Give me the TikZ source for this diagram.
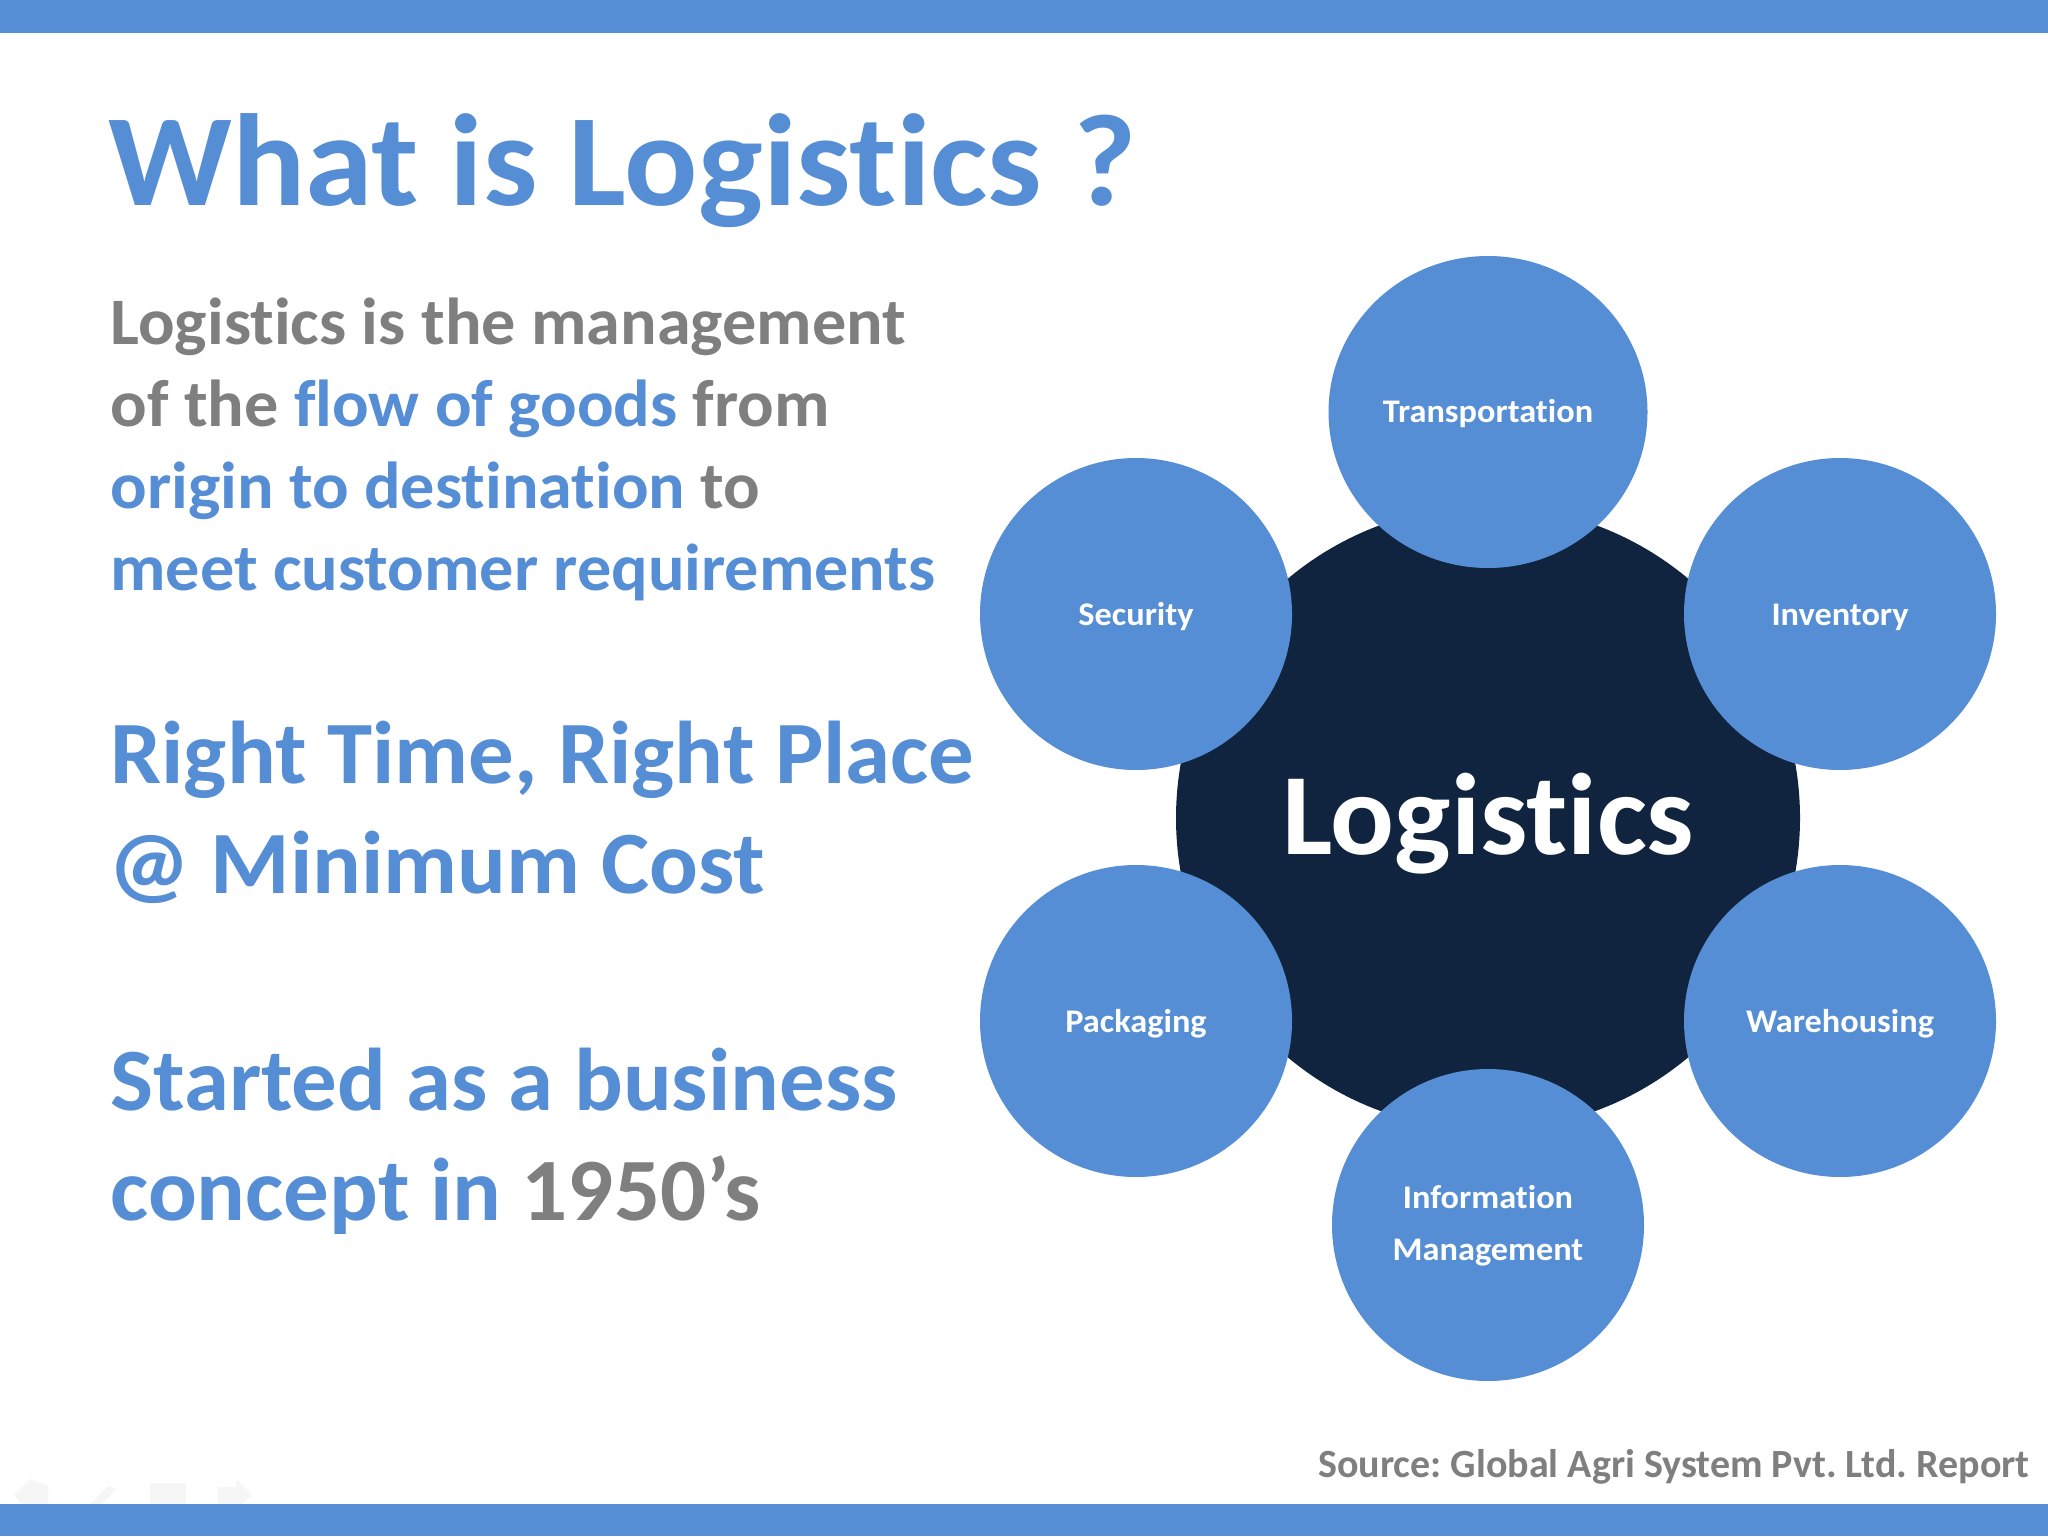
\documentclass[tikz,border=0pt]{standalone}
\usepackage{fontspec}
\usepackage{graphicx}
\usetikzlibrary{shapes.geometric}
\setmainfont{Carlito}[BoldFont={Carlito Bold},Ligatures=CommonOff]
\definecolor{blu}{HTML}{558ED5}
\definecolor{nav}{HTML}{10243F}
\definecolor{gry}{HTML}{7F7F7F}
\definecolor{ghost}{HTML}{F6F6F6}
\tikzset{
  x=0.5pt,y=-0.5pt,
  sat/.style={circle,fill=blu,draw=none,minimum size=156pt,inner sep=0pt,text=white,font=\bfseries\fontsize{16.5}{26}\selectfont,align=center},
  wide/.style={ellipse,fill=blu,draw=none,minimum width=159.5pt,minimum height=156pt,inner sep=0pt,text=white,font=\bfseries\fontsize{16.5}{26}\selectfont,align=center},
  hub/.style={circle,fill=nav,draw=none,minimum size=312pt,inner sep=0pt,text=white,font=\bfseries\fontsize{58}{60}\selectfont},
  band/.style={fill=blu,draw=none},
  txt/.style={anchor=base west,inner sep=0pt,font=\bfseries},
  small/.style={txt,font=\bfseries\fontsize{33.2}{33}\selectfont},
  large/.style={txt,font=\bfseries\fontsize{44.5}{45}\selectfont},
  ghosticon/.style={fill=ghost,draw=none},
}
\newcommand{\B}[1]{\textcolor{blu}{#1}}
\newcommand{\G}[1]{\textcolor{gry}{#1}}
\newcommand{\sx}[2]{\scalebox{#1}[1]{#2}}
\newcommand{\dn}[3]{\raisebox{-#1}[\height][\depth]{\scalebox{#2}[1]{#3}}}
\begin{document}
\begin{tikzpicture}
\useasboundingbox (0,0) rectangle (2048,1536);
\fill[white] (0,0) rectangle (2048,1536);
\fill[ghosticon] (14,1495) -- (30,1479) -- (48,1486) -- (48,1504) -- (22,1504) -- cycle;
\fill[ghosticon] (90,1504) -- (108,1486) -- (116,1489) -- (102,1504) -- cycle;
\fill[ghosticon] (150,1483) rectangle (186,1504);
\fill[ghosticon] (218,1487) -- (236,1487) -- (236,1479) -- (252,1495) -- (242,1504) -- (218,1504) -- cycle;
\fill[band] (0,0) rectangle (2048,33);
\fill[band] (0,1504) rectangle (2048,1536);
\node[txt,font=\bfseries\fontsize{65.5}{68}\selectfont,text=blu] (title) at (108,205) {\sx{1.043}{What is Logistics ?}};
\node[small] (l1) at (110,344) {\sx{1.027}{\G{Logistics is the management}}};
\node[small] (l2) at (110,426) {\sx{1.027}{\G{of the }\B{flow of goods }\G{from}}};
\node[small] (l3) at (110,508) {\sx{1.027}{\B{origin to destination }\G{to}}};
\node[small] (l4) at (110,590) {\sx{1.027}{\B{meet customer requirements}}};
\node[large] (r1) at (110,783) {\sx{1.022}{\B{Right Time, Right Place}}};
\node[large] (r2) at (108,893) {\sx{1.022}{\B{@ Minimum Cost}}};
\node[large] (s1) at (110,1110) {\sx{1.022}{\B{Started as a business}}};
\node[large] (s2) at (110,1220) {\sx{1.022}{\B{concept in }\G{1950’s}}};
\node[hub] (hub) at (1488,818) {\dn{2.8pt}{1.026}{Logistics}};
\node[wide] (a) at (1488,412) {\dn{1pt}{1.04}{Transportation}};
\node[sat] (b) at (1840,614) {\dn{1.5pt}{1.04}{Inventory}};
\node[sat] (c) at (1840,1021) {\dn{1.5pt}{1.04}{Warehousing}};
\node[sat] (d) at (1488,1225) {\dn{0.5pt}{1.04}{Information}\\\dn{0.5pt}{1.04}{Management}};
\node[sat] (e) at (1136,1021) {\dn{1.5pt}{1.04}{Packaging}};
\node[sat] (f) at (1136,614) {\dn{1.5pt}{1.04}{Security}};
\node[anchor=base east,inner sep=0pt,text=gry,font=\bfseries\fontsize{20}{20}\selectfont] (src) at (2030,1477) {\frenchspacing Source: Global Agri System Pvt. Ltd. Report};
\end{tikzpicture}
\end{document}
